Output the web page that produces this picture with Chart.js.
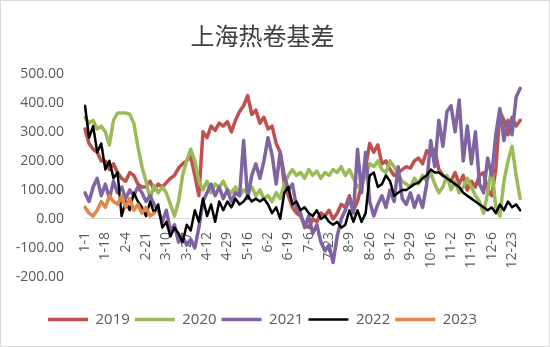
<!DOCTYPE html>
<html>
<head>
<meta charset="utf-8">
<script src="https://cdn.jsdelivr.net/npm/chart.js@4.4.1/dist/chart.umd.min.js"></script>
<style>
  html, body { margin: 0; padding: 0; background: #fff; }
</style>
</head>
<body>
<canvas id="grafico" width="550" height="347"></canvas>
<script>
// Etiquetas del eje X (una cada 5 puntos)
const fechas = ['1-1', '1-18', '2-4', '2-21', '3-10', '3-27', '4-12', '4-29', '5-16', '6-2', '6-19',
  '7-6', '7-23', '8-9', '8-26', '9-12', '9-29', '10-16', '11-2', '11-19', '12-6', '12-23'];

// Series
const serie2019 = [310, 260, 240, 230, 200, 200, 170, 190, 160, 140,
  130, 160, 150, 120, 110, 110, 130, 100, 120, 110,
  125, 140, 150, 175, 190, 200, 215, 150, 80, 300,
  280, 320, 305, 330, 320, 335, 300, 340, 370, 390,
  425, 360, 375, 330, 350, 310, 320, 260, 230, 120,
  80, 40, 20, 10, -20, -30, 0, -10, 20, 10,
  30, 0, 20, 50, 40, 80, 30, 60, 120, 180,
  260, 230, 255, 190, 200, 170, 150, 160, 170, 180,
  175, 200, 210, 190, 235, 220, 240, 170, 150, 140,
  130, 160, 120, 150, 100, 130, 110, 150, 160, 100,
  80, 170, 370, 340, 290, 350, 320, 340];

const serie2020 = [350, 330, 340, 310, 320, 300, 255, 340, 365, 365,
  365, 360, 330, 250, 180, 130, 70, 115, 90, 110,
  90, 50, 10, 60, 150, 200, 240, 200, 130, 100,
  130, 90, 120, 110, 130, 100, 90, 110, 80, 100,
  90, 110, 80, 100, 70, 80, 60, 90, 70, 120,
  150, 170, 150, 160, 140, 170, 150, 165, 140, 160,
  150, 170, 160, 180, 150, 170, 140, 110, 120, 150,
  190, 180, 200, 170, 160, 200, 180, 150, 130, 120,
  110, 140, 120, 150, 130, 160, 120, 90, 110, 150,
  100, 130, 90, 110, 140, 110, 80, 60, 20, 90,
  180, 40, 10, 130, 200, 250, 150, 70];

const serie2021 = [90, 60, 110, 140, 80, 120, 70, 130, 90, 110,
  70, 100, 80, 110, 90, 60, 80, 50, 30, -10,
  30, -40, -20, -80, -60, -90, -70, -100, -30, 60,
  90, 120, 80, 110, 70, 100, 60, 90, 80, 270,
  70, 150, 190, 140, 200, 280, 220, 120, 230, 150,
  100, 120, 40, 20, -30, 10, -50, -20, -80, -110,
  -90, -150, -60, 0, 30, 70, 20, 240, 90, 230,
  60, 10, 50, 80, 40, 100, 60, 180, 70, 50,
  90, 40, 80, 40, 120, 270, 180, 340, 250, 370,
  390, 300, 410, 200, 320, 190, 300, 120, 90, 210,
  150, 290, 380, 270, 340, 290, 420, 450];

const serie2022 = [390, 280, 320, 230, 260, 170, 200, 140, 160, 10,
  60, 30, 90, 60, 40, 10, 60, 20, 50, -30,
  -10, -60, -30, -50, -80, -20, -40, 30, -10, 70,
  10, 50, -10, 60, 30, 60, 40, 70, 50, 60,
  80, 60, 70, 60, 70, 50, 20, 40, 0, 90,
  110, 50, 60, 30, 40, 20, 10, 30, 0, 10,
  -10, -20, -10, -30, -20, 30, -10, 30, -10, 20,
  150, 160, 110, 120, 150, 130, 80, 90, 100, 100,
  110, 120, 125, 140, 150, 170, 160, 160, 150, 140,
  130, 120, 110, 90, 80, 70, 60, 50, 40, 30,
  40, 20, 50, 30, 60, 40, 50, 30];

const serie2023 = [40, 20, 10, 30, 60, 40, 80, 60, 50, 80, 40, 70, 30, 50, 20, 40, 10, 20];

const categorias = serie2019.map((v, i) => (i % 5 === 0 ? (fechas[i / 5] || '') : ''));

Chart.defaults.font.family = "'Open Sans', sans-serif";
Chart.defaults.color = '#595959';

// Fondo blanco y marco fino
const marco = {
  id: 'marco',
  beforeDraw(chart) {
    const ctx = chart.ctx;
    ctx.save();
    ctx.fillStyle = '#fff';
    ctx.fillRect(0, 0, chart.width, chart.height);
    ctx.strokeStyle = '#d9d9d9';
    ctx.lineWidth = 1;
    ctx.strokeRect(0.5, 0.5, chart.width - 1, chart.height - 1);
    ctx.restore();
  }
};

function serie(label, data, color, ancho, orden) {
  return {
    label: label,
    data: data,
    borderColor: color,
    backgroundColor: color,
    borderWidth: ancho,
    borderCapStyle: 'round',
    borderJoinStyle: 'round',
    pointRadius: 0,
    tension: 0,
    fill: false,
    order: orden
  };
}

document.addEventListener('DOMContentLoaded', function() {
  const ctx = document.getElementById('grafico').getContext('2d');
  new Chart(ctx, {
    type: 'line',
    data: {
      labels: categorias,
      datasets: [
        serie('2019', serie2019, '#c0504d', 3.5, 5),
        serie('2020', serie2020, '#9bbb59', 3.5, 4),
        serie('2021', serie2021, '#8064a2', 3.5, 3),
        serie('2022', serie2022, '#000000', 2.5, 2),
        serie('2023', serie2023, '#e2874a', 3.5, 1)
      ]
    },
    options: {
      responsive: false,
      animation: false,
      layout: { padding: { left: 0, right: 25, top: 10, bottom: 10 } },
      plugins: {
        title: {
          display: true,
          text: '上海热卷基差',
          color: '#404040',
          font: { family: "'Noto Sans CJK SC'", size: 24, weight: 'normal' },
          padding: { top: 11, bottom: 24 }
        },
        legend: {
          position: 'bottom',
          title: { display: true, text: '', padding: { top: 18, bottom: 0 }, font: { size: 10 } },
          labels: {
            usePointStyle: true,
            pointStyle: 'line',
            pointStyleWidth: 40,
            padding: 5,
            font: { size: 15 },
            sort: (a, b) => a.datasetIndex - b.datasetIndex
          }
        },
        tooltip: { enabled: false }
      },
      scales: {
        x: {
          position: { y: 0 },
          grid: { display: false, drawTicks: false },
          border: { display: true, color: '#d9d9d9', width: 1 },
          ticks: { autoSkip: false, maxRotation: 90, minRotation: 90, padding: 13, font: { size: 14 } },
          afterFit: function(axis) { axis.height = 0; }
        },
        y: {
          min: -200,
          max: 500,
          grid: { display: false },
          border: { display: false },
          ticks: { stepSize: 100, padding: 13, font: { size: 14 }, callback: (v) => v.toFixed(2) },
          afterFit: function(axis) { axis.width = 85; }
        }
      }
    },
    plugins: [marco]
  });
});
</script>
</body>
</html>
